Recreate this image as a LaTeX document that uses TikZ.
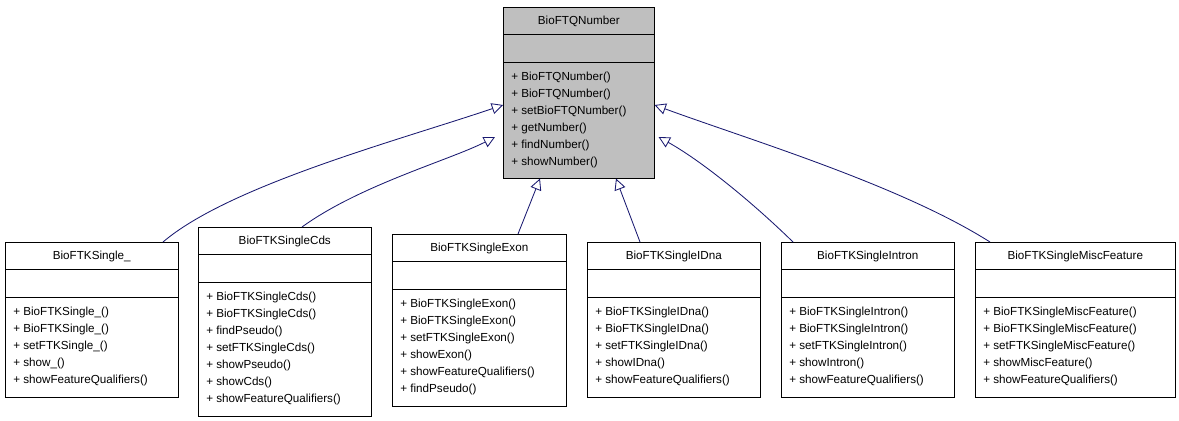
\documentclass[tikz,border=0pt]{standalone}
\usepackage{fontspec}
\setmainfont{Liberation Sans}
\usetikzlibrary{arrows.meta,calc}
\definecolor{edgeblue}{HTML}{191970}
\definecolor{boxgray}{HTML}{BFBFBF}
\tikzset{
  classbox/.style={draw,rectangle,anchor=north west,inner sep=0pt},
  rowtext/.style={anchor=west,inner sep=0pt,font=\fontsize{8.3}{10}\selectfont},
  titletext/.style={inner sep=0pt,font=\fontsize{8.3}{10}\selectfont},
  inherit/.style={draw=edgeblue,line width=0.6pt,-{Triangle[open,length=8pt,width=8pt]}}
}
% name, left, top, width, height, fill, title, methods
\newcommand{\umlbox}[8]{
  \node[classbox,fill=#6,minimum width=#4*0.025cm,minimum height=#5*0.025cm] (#1) at (#2,#3) {};
  \draw ($(#1.north west)+(0,27)$) -- ($(#1.north east)+(0,27)$);
  \draw ($(#1.north west)+(0,55)$) -- ($(#1.north east)+(0,55)$);
  \node[titletext] at ($(#1.north)+(0,14)$) {#7};
  \foreach \m [count=\i] in {#8}
    \node[rowtext] at ($(#1.north west)+(8,53+17*\i)$) {\m};
}
\begin{document}
\begin{tikzpicture}[x=0.025cm,y=-0.025cm]
  \useasboundingbox (0,0) rectangle (1179,421);
  \umlbox{number}{503}{7}{151}{171}{boxgray}{BioFTQNumber}
    {+ BioFTQNumber(),+ BioFTQNumber(),+ setBioFTQNumber(),+ getNumber(),+ findNumber(),+ showNumber()}
  \umlbox{single}{5}{242}{173}{155}{white}{BioFTKSingle\_}
    {+ BioFTKSingle\_(),+ BioFTKSingle\_(),+ setFTKSingle\_(),+ show\_(),+ showFeatureQualifiers()}
  \umlbox{cds}{198}{227}{173}{189}{white}{BioFTKSingleCds}
    {+ BioFTKSingleCds(),+ BioFTKSingleCds(),+ findPseudo(),+ setFTKSingleCds(),+ showPseudo(),+ showCds(),+ showFeatureQualifiers()}
  \umlbox{exon}{392}{234}{174}{172}{white}{BioFTKSingleExon}
    {+ BioFTKSingleExon(),+ BioFTKSingleExon(),+ setFTKSingleExon(),+ showExon(),+ showFeatureQualifiers(),+ findPseudo()}
  \umlbox{idna}{587}{242}{173}{155}{white}{BioFTKSingleIDna}
    {+ BioFTKSingleIDna(),+ BioFTKSingleIDna(),+ setFTKSingleIDna(),+ showIDna(),+ showFeatureQualifiers()}
  \umlbox{intron}{781}{242}{173}{155}{white}{BioFTKSingleIntron}
    {+ BioFTKSingleIntron(),+ BioFTKSingleIntron(),+ setFTKSingleIntron(),+ showIntron(),+ showFeatureQualifiers()}
  \umlbox{misc}{975}{242}{200}{155}{white}{BioFTKSingleMiscFeature}
    {+ BioFTKSingleMiscFeature(),+ BioFTKSingleMiscFeature(),+ setFTKSingleMiscFeature(),+ showMiscFeature(),+ showFeatureQualifiers()}
  % inheritance
  \draw[inherit] ($(single.north west)+(158,0)$) .. controls (230,185) and (400,140) .. ($(number.north west)+(0,98)$);
  \draw[inherit] ($(cds.north west)+(104,0)$) .. controls (360,185) and (450,160) .. ($(number.north west)+(-8,130)$);
  \draw[inherit] ($(exon.north west)+(126,0)$) -- ($(number.south west)+(37,0)$);
  \draw[inherit] ($(idna.north west)+(53,0)$) -- ($(number.south west)+(113,0)$);
  \draw[inherit] ($(intron.north west)+(12,0)$) .. controls (750,200) and (700,160) .. ($(number.north east)+(4,130)$);
  \draw[inherit] ($(misc.north west)+(15,0)$) .. controls (900,185) and (750,140) .. ($(number.north east)+(0,98)$);
\end{tikzpicture}
\end{document}
